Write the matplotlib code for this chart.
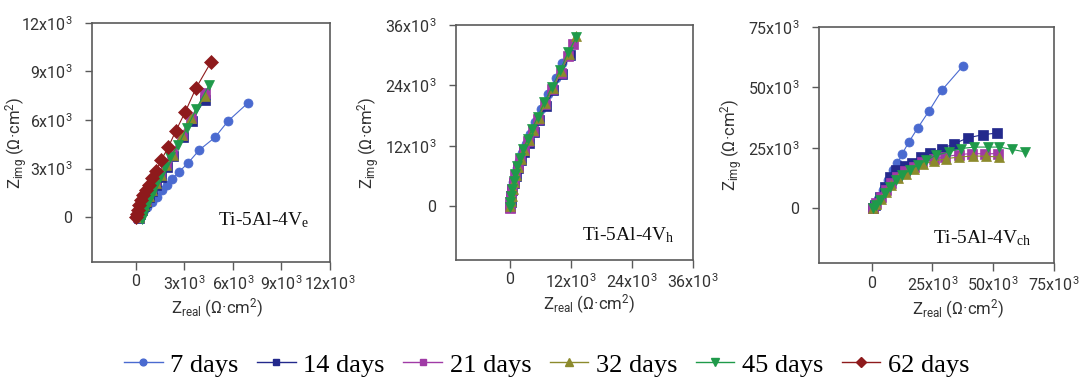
import matplotlib
matplotlib.use("Agg")
import matplotlib.pyplot as plt
from matplotlib.ticker import FuncFormatter
from matplotlib.lines import Line2D

plt.rcParams['font.family'] = ['Roboto', 'DejaVu Sans']
plt.rcParams['mathtext.default'] = 'regular'

# values in units of 10^3 ohm.cm2
labels = ['7 days', '14 days', '21 days', '32 days', '45 days', '62 days']
colors = ['#4a6ad0', '#23298c', '#a03aa6', '#8c8a2c', '#1f9a4a', '#8e1a1c']
markers = ['o', 's', 's', '^', 'v', 'D']
msizes = [6.5, 6.5, 6.5, 7.5, 7.5, 7]

# Ti-5Al-4Ve
e_x = {
    0: [0.2, 0.25, 0.3, 0.4, 0.5, 0.66, 0.97, 1.28, 1.59, 1.89, 2.2, 2.67, 3.23, 3.91, 4.88, 5.7, 6.93],
    1: [0.2, 0.28, 0.38, 0.5, 0.65, 0.8, 1.0, 1.25, 1.55, 1.9, 2.3, 2.88, 3.44, 4.26],
    2: [0.15, 0.24, 0.34, 0.46, 0.6, 0.76, 0.96, 1.2, 1.5, 1.85, 2.25, 2.82, 3.4, 4.3],
    3: [0.18, 0.26, 0.36, 0.48, 0.62, 0.78, 0.98, 1.22, 1.52, 1.88, 2.28, 2.85, 3.42, 4.28],
    4: [0.35, 0.42, 0.5, 0.6, 0.72, 0.85, 1.0, 1.2, 1.48, 1.79, 2.1, 2.61, 3.13, 3.74, 4.52],
    5: [0.0, 0.05, 0.1, 0.2, 0.32, 0.45, 0.62, 0.78, 0.98, 1.25, 1.56, 2.0, 2.45, 3.05, 3.7, 4.65],
}
e_y = {
    0: [0.05, 0.1, 0.2, 0.3, 0.45, 0.64, 0.94, 1.25, 1.67, 1.98, 2.33, 2.8, 3.35, 4.14, 4.92, 5.94, 7.06],
    1: [-0.05, 0.2, 0.45, 0.7, 0.95, 1.25, 1.6, 2.0, 2.5, 3.1, 3.75, 4.95, 5.95, 7.25],
    2: [0.0, 0.25, 0.5, 0.78, 1.05, 1.35, 1.72, 2.15, 2.7, 3.3, 3.95, 5.1, 6.15, 7.65],
    3: [0.0, 0.22, 0.48, 0.74, 1.0, 1.3, 1.66, 2.08, 2.6, 3.2, 3.85, 5.05, 6.1, 7.5],
    4: [-0.1, 0.15, 0.4, 0.65, 0.9, 1.15, 1.45, 1.9, 2.49, 3.1, 3.72, 4.44, 5.48, 6.71, 8.15],
    5: [0.0, 0.2, 0.45, 0.75, 1.05, 1.36, 1.67, 1.98, 2.39, 2.85, 3.52, 4.32, 5.3, 6.5, 7.95, 9.6],
}

# Ti-5Al-4Vh
h_x = {
    0: [0.0, 0.1, 0.25, 0.45, 0.7, 1.0, 1.4, 1.9, 2.5, 3.2, 4.0, 5.0, 6.2, 7.5, 9.0, 10.3],
    1: [0.05, 0.15, 0.3, 0.5, 0.8, 1.15, 1.6, 2.2, 2.9, 3.7, 4.7, 5.8, 7.1, 8.6, 10.2, 11.8],
    2: [0.0, 0.12, 0.28, 0.5, 0.78, 1.1, 1.55, 2.1, 2.8, 3.6, 4.5, 5.6, 6.9, 8.4, 10.0, 11.5, 12.4],
    3: [0.1, 0.2, 0.35, 0.55, 0.85, 1.2, 1.65, 2.2, 2.9, 3.7, 4.6, 5.7, 7.0, 8.5, 10.1, 11.7, 13.1],
    4: [0.0, 0.1, 0.25, 0.48, 0.75, 1.05, 1.5, 2.05, 2.7, 3.5, 4.4, 5.5, 6.8, 8.3, 9.9, 11.5, 13.1],
}
h_y = {
    0: [0.0, 1.0, 2.2, 3.4, 4.7, 6.0, 7.5, 9.0, 10.6, 12.4, 14.3, 16.7, 19.4, 22.2, 25.4, 28.5],
    1: [-0.2, 0.9, 2.0, 3.2, 4.6, 6.0, 7.5, 9.1, 10.8, 12.6, 14.8, 17.2, 20.0, 23.0, 26.3, 30.0],
    2: [-0.3, 0.8, 2.0, 3.4, 4.8, 6.1, 7.7, 9.3, 11.1, 13.0, 15.0, 17.4, 20.2, 23.2, 26.5, 29.9, 32.2],
    3: [0.0, 1.0, 2.1, 3.4, 4.8, 6.2, 7.8, 9.4, 11.2, 13.1, 15.1, 17.6, 20.4, 23.5, 26.8, 30.3, 33.8],
    4: [-0.2, 0.9, 2.1, 3.5, 4.9, 6.3, 7.9, 9.6, 11.4, 13.3, 15.3, 17.8, 20.6, 23.7, 27.0, 30.6, 33.6],
}

# Ti-5Al-4Vch
ch_x = {
    0: [0.5, 0.8, 2.6, 4.6, 6.7, 8.7, 10.5, 12.6, 15.3, 19.0, 23.5, 29.0, 37.4],
    1: [0.4, 1.2, 3.3, 5.3, 7.4, 10.1, 13.5, 16.7, 20.4, 23.8, 29.0, 34.0, 39.5, 45.6, 51.4],
    2: [0.5, 1.8, 3.8, 5.8, 7.9, 10.5, 13.9, 17.3, 20.7, 25.5, 30.3, 35.8, 41.2, 46.7, 51.8],
    3: [0.6, 1.9, 4.0, 6.0, 8.1, 10.8, 14.2, 17.6, 21.0, 25.8, 30.6, 36.1, 41.5, 47.0, 52.5],
    4: [0.5, 1.6, 3.3, 5.3, 7.4, 9.8, 12.6, 15.6, 19.0, 22.4, 26.5, 31.7, 36.8, 42.2, 47.7, 52.5, 57.9, 63.1],
}
ch_y = {
    0: [0.5, 1.7, 4.0, 7.4, 11.6, 15.7, 18.5, 22.6, 27.4, 33.3, 40.1, 49.0, 58.7],
    1: [0.0, 1.2, 4.7, 8.8, 12.9, 15.7, 17.5, 18.5, 21.2, 22.9, 24.7, 26.7, 29.1, 30.4, 31.1],
    2: [0.2, 2.0, 4.6, 7.5, 10.3, 13.1, 15.3, 17.2, 19.0, 20.3, 21.3, 22.2, 22.6, 22.5, 22.6],
    3: [0.0, 1.7, 4.0, 6.7, 9.5, 12.3, 14.3, 16.4, 18.2, 19.5, 20.5, 21.2, 21.6, 21.5, 21.2],
    4: [-0.1, 1.2, 3.3, 6.1, 8.8, 11.6, 13.6, 15.7, 17.8, 19.8, 21.9, 23.3, 24.7, 25.3, 25.3, 25.3, 24.3, 23.3],
}

panels = [
    dict(xs=e_x, ys=e_y, step=3, top=12, xlo=-2.72, ylo=-2.78,
         rect=[0.0850, 0.3069, 0.2200, 0.6323], name='Ti-5Al-4V$_{e}$',
         tpos=(0.53, 0.175), ylab_x=-0.262, xlab=(0.527, -0.142)),
    dict(xs=h_x, ys=h_y, step=12, top=36, xlo=-10.57, ylo=-10.7,
         rect=[0.4214, 0.3122, 0.2190, 0.6217], name='Ti-5Al-4V$_{h}$',
         tpos=(0.53, 0.105), ylab_x=-0.31, xlab=(0.56, -0.14)),
    dict(xs=ch_x, ys=ch_y, step=25, top=75, xlo=-21.7, ylo=-22.7,
         rect=[0.7569, 0.3042, 0.2172, 0.6243], name='Ti-5Al-4V$_{ch}$',
         tpos=(0.485, 0.105), ylab_x=-0.315, xlab=(0.59, -0.144)),
]


def fmt(v, pos):
    if abs(v) < 1e-9:
        return '0'
    return '%dx10$^3$' % round(v)


fig = plt.figure(figsize=(10.82, 3.78), dpi=100)
spine_col = '#5a5a5a'

for p in panels:
    ax = fig.add_axes(p['rect'])
    for i in p['xs']:
        ax.plot(p['xs'][i], p['ys'][i], color=colors[i], marker=markers[i],
                ms=msizes[i], lw=0.8, mec=colors[i], mew=0.5)
    ax.set_xlim(p['xlo'], p['top'])
    ax.set_ylim(p['ylo'], p['top'])
    ticks = list(range(0, p['top'] + 1, p['step']))
    ax.set_xticks(ticks)
    ax.set_yticks(ticks)
    ax.xaxis.set_major_formatter(FuncFormatter(fmt))
    ax.yaxis.set_major_formatter(FuncFormatter(fmt))
    ax.tick_params(axis='both', direction='out', color=spine_col, labelcolor='#333333',
                   labelsize=11.5, width=1.0)
    ax.tick_params(axis='x', length=6, pad=3)
    ax.tick_params(axis='y', length=5, pad=9)
    for s in ax.spines.values():
        s.set_color(spine_col)
        s.set_linewidth(1.2)
    ax.set_ylabel('Z$_{img}$ (\u03a9\u00b7cm$^2$)', fontsize=12, color='#333333')
    ax.set_xlabel('Z$_{real}$ (\u03a9\u00b7cm$^2$)', fontsize=12, color='#333333')
    ax.yaxis.set_label_coords(p['ylab_x'], 0.5)
    ax.xaxis.set_label_coords(*p['xlab'])
    ax.text(p['tpos'][0], p['tpos'][1], p['name'], transform=ax.transAxes,
            family=['Liberation Serif', 'DejaVu Serif'], fontsize=14,
            ha='left', va='center', color='#111111')

handles = [Line2D([], [], color=colors[i], marker=markers[i], ms=msizes[i] * 0.75,
                  lw=1.0, mec=colors[i]) for i in range(len(labels))]
fig.legend(handles, labels, loc='center', bbox_to_anchor=(0.5055, 0.035), ncol=6,
           frameon=False, handlelength=1.45, handletextpad=0.3, columnspacing=0.7,
           borderaxespad=0, borderpad=0,
           prop=dict(family=['Liberation Serif', 'DejaVu Serif'], size=19))

fig.savefig('out.png', dpi=100)
